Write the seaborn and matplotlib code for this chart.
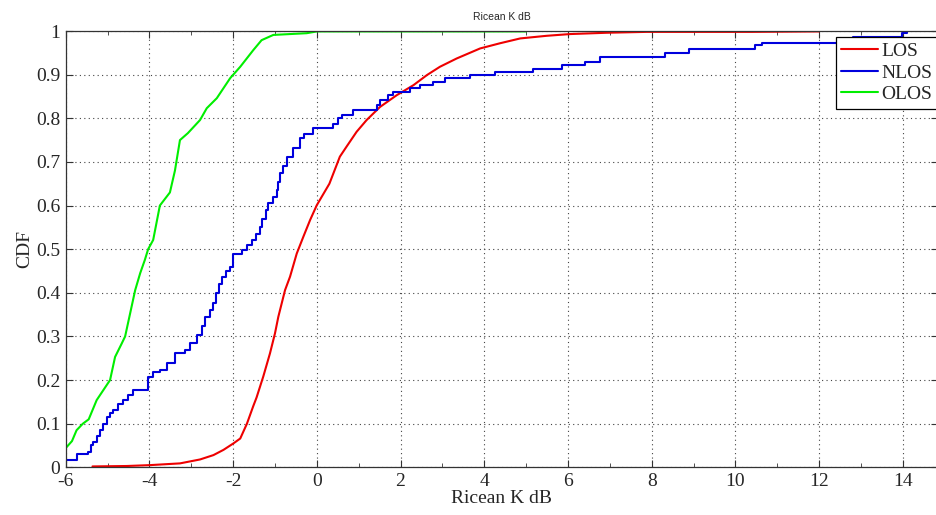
import numpy as np
import pandas as pd
import matplotlib
matplotlib.use("Agg")
import matplotlib.pyplot as plt
from matplotlib.ticker import MultipleLocator, FuncFormatter
import seaborn as sns

# CDF curves
los_x = [-5.36, -4.54, -3.99, -3.27, -2.79, -2.47, -2.23, -1.99, -1.83, -1.67, -1.52, -1.44,
         -1.28, -1.12, -1.0, -0.92, -0.76, -0.64, -0.48, -0.32, -0.16, 0.0, 0.30, 0.55, 0.71,
         0.95, 1.19, 1.51, 1.91, 2.31, 2.63, 2.94, 3.34, 3.90, 4.38, 4.86, 5.49, 6.05, 6.93,
         7.88, 10.4, 12.0]
los_y = [0.002, 0.003, 0.005, 0.009, 0.018, 0.028, 0.040, 0.055, 0.066, 0.100, 0.140, 0.160,
         0.208, 0.261, 0.307, 0.345, 0.406, 0.437, 0.490, 0.529, 0.567, 0.601, 0.650, 0.712, 0.735,
         0.769, 0.796, 0.826, 0.853, 0.876, 0.899, 0.918, 0.937, 0.960, 0.972, 0.983, 0.989, 0.993, 0.996,
         0.998, 0.998, 0.999]

nlos_x = [-6.0, -5.74, -5.47, -5.40, -5.34, -5.26, -5.18, -5.10, -5.02, -4.94, -4.86, -4.74,
          -4.62, -4.50, -4.38, -4.03, -3.91, -3.75, -3.59, -3.39, -3.15, -3.03, -2.87, -2.75,
          -2.67, -2.55, -2.47, -2.40, -2.33, -2.27, -2.17, -2.07, -2.00, -1.79, -1.68, -1.56,
          -1.45, -1.36, -1.30, -1.22, -1.16, -1.05, -0.96, -0.92, -0.88, -0.80, -0.72, -0.56,
          -0.40, -0.30, -0.08, 0.39, 0.50, 0.60, 0.87, 1.43, 1.51, 1.70, 1.83, 2.23, 2.47, 2.78,
          3.06, 3.66, 4.26, 5.17, 5.85, 6.41, 6.77, 8.32, 8.90, 10.47, 10.63, 12.80, 13.98, 14.10]
nlos_y = [0.017, 0.030, 0.036, 0.050, 0.059, 0.072, 0.085, 0.100, 0.116, 0.125, 0.131, 0.145,
          0.154, 0.165, 0.177, 0.208, 0.219, 0.223, 0.238, 0.261, 0.269, 0.284, 0.303, 0.325,
          0.345, 0.360, 0.376, 0.400, 0.420, 0.437, 0.450, 0.460, 0.490, 0.498, 0.510, 0.521,
          0.535, 0.551, 0.570, 0.590, 0.605, 0.620, 0.636, 0.655, 0.674, 0.690, 0.712, 0.731,
          0.754, 0.765, 0.777, 0.788, 0.800, 0.807, 0.819, 0.830, 0.842, 0.853, 0.861, 0.869, 0.876, 0.884,
          0.892, 0.899, 0.907, 0.914, 0.922, 0.930, 0.941, 0.949, 0.958, 0.968, 0.973, 0.987, 0.995, 1.0]

olos_x = [-6.0, -5.85, -5.74, -5.59, -5.45, -5.26, -5.10, -4.94, -4.82, -4.66, -4.58, -4.46,
          -4.34, -4.22, -4.11, -4.03, -3.91, -3.75, -3.51, -3.39, -3.27, -3.08, -2.79, -2.63,
          -2.39, -2.07, -1.83, -1.52, -1.32, -1.04, -0.24, 0.0, 5.0]
olos_y = [0.044, 0.060, 0.085, 0.100, 0.110, 0.154, 0.177, 0.200, 0.253, 0.284, 0.300, 0.353,
          0.406, 0.445, 0.475, 0.500, 0.521, 0.600, 0.630, 0.680, 0.750, 0.766, 0.796, 0.823,
          0.846, 0.892, 0.918, 0.956, 0.979, 0.991, 0.995, 0.999, 0.999]

sns.set_style("ticks")
plt.rcParams['font.family'] = ['Liberation Serif', 'DejaVu Serif']
plt.rcParams['axes.unicode_minus'] = False

fig = plt.figure(figsize=(9.37, 5.15), dpi=100)
ax = fig.add_axes([0.0701, 0.0926, 0.931, 0.8472])

sns.lineplot(x=los_x, y=los_y, ax=ax, color='#ee0000', linewidth=1.5,
             estimator=None, sort=False, label='LOS')
sns.lineplot(x=nlos_x, y=nlos_y, ax=ax, color='#0000dd', linewidth=1.5,
             estimator=None, sort=False, drawstyle='steps-post', label='NLOS')
sns.lineplot(x=olos_x, y=olos_y, ax=ax, color='#00ee00', linewidth=1.5,
             estimator=None, sort=False, label='OLOS')

ax.set_xlim(-6, 14.84)
ax.set_ylim(0, 1)
ax.xaxis.set_major_locator(MultipleLocator(2))
ax.xaxis.set_minor_locator(MultipleLocator(1))
ax.yaxis.set_major_locator(MultipleLocator(0.1))
ax.yaxis.set_major_formatter(FuncFormatter(lambda v, p: '%g' % round(v, 1)))
ax.tick_params(which='both', direction='in', top=True, right=True, labelsize=14,
               color='#333333', pad=4)
ax.tick_params(which='major', length=5)
ax.tick_params(which='minor', length=3)
ax.grid(True, which='major', linestyle=(0, (1, 3)), color='#444444', linewidth=0.8)
for s in ax.spines.values():
    s.set_color('#333333')
    s.set_linewidth(0.9)

ax.set_xlabel('Ricean K dB', fontsize=14, labelpad=0)
ax.set_ylabel('CDF', fontsize=14, labelpad=2)
ax.set_title('Ricean K dB', fontsize=7.5, family=['Liberation Sans'], pad=8)

leg = ax.legend(loc='upper right', bbox_to_anchor=(1.0, 0.987), fontsize=14,
                fancybox=False, framealpha=1, edgecolor='black', handlelength=1.9,
                handletextpad=0.15, borderpad=0.3, labelspacing=0.2, borderaxespad=0)
leg.get_frame().set_linewidth(0.9)

fig.savefig('out.png', dpi=100)
